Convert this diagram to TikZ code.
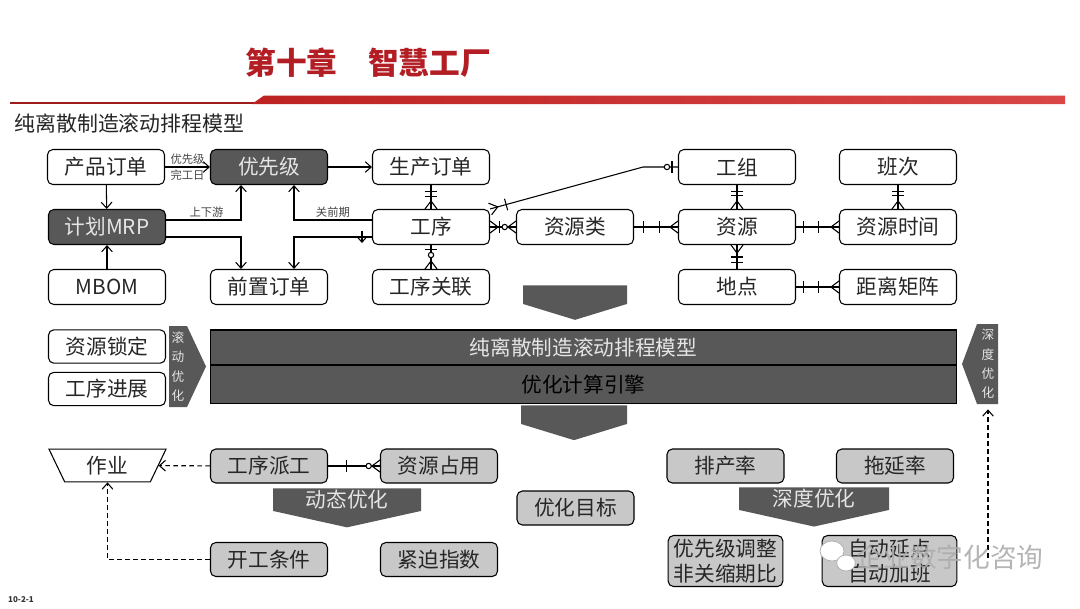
\documentclass[tikz,border=0pt]{standalone}
\usepackage{fontspec}
\setmainfont{Noto Sans CJK SC}
\usetikzlibrary{positioning, shapes.geometric, shapes.symbols, arrows.meta, decorations.markings}

\definecolor{titlered}{RGB}{178,30,36}
\definecolor{linered}{RGB}{210,38,38}
\definecolor{boxdark}{RGB}{88,88,88}
\definecolor{boxgrey}{RGB}{200,200,200}
\definecolor{lbltext}{RGB}{70,70,70}

\tikzset{
  box/.style={rectangle, rounded corners=4pt, draw, line width=0.8pt, minimum width=87.75pt, minimum height=26.25pt, inner sep=1pt, font=\fontsize{15.5}{17}\selectfont, text=black!85},
  darkbox/.style={box, fill=boxdark, text=white!90!black},
  greybox/.style={box, fill=boxgrey, minimum height=25.5pt},
  lbl/.style={font=\fontsize{8.5}{10}\selectfont, text=lbltext, inner sep=1.5pt},
  link/.style={line width=0.8pt},
  arr/.style={link, -{Straight Barb[length=4.5pt, width=8pt]}},
  dlink/.style={arr, dashed, dash pattern=on 3.5pt off 2.5pt},
  ebar/.style={postaction={decorate, decoration={markings, mark=at position #1 with {\draw[line width=0.8pt] (0,-4.5pt) -- (0,4.5pt);}}}},
  ezero/.style={postaction={decorate, decoration={markings, mark=at position #1 with {\draw[line width=0.8pt, fill=white] (0,0) circle (2pt);}}}},
  ecrowend/.style={postaction={decorate, decoration={markings, mark=at position -6pt with {\draw[line width=0.8pt] (6pt,4.5pt) -- (0,0) -- (6pt,-4.5pt);}}}},
  ecrowstart/.style={postaction={decorate, decoration={markings, mark=at position 6pt with {\draw[line width=0.8pt] (-6pt,4.5pt) -- (0,0) -- (-6pt,-4.5pt);}}}},
  chevtext/.style={text=white!90!black, font=\fontsize{9.5}{14.5}\selectfont, align=center, inner sep=0pt},
  downarr/.style={signal, signal to=south, fill=boxdark, draw=none, inner sep=0pt, minimum height=0pt, anchor=north},
  optarr/.style={downarr, signal pointer angle=155, text=white!90!black, font=\fontsize{15.5}{17}\selectfont, text height=13.5pt, text depth=1.5pt, inner ysep=1pt},
  band/.style={rectangle, draw=black, line width=0.8pt, fill=boxdark, minimum width=560pt, font=\fontsize{15.5}{17}\selectfont, inner sep=0pt}
}

\begin{document}
\begin{tikzpicture}[x=0.75pt, y=-0.75pt]
  \useasboundingbox[fill=white] (0,0) rectangle (1080,608);

  % header
  \node[font=\bfseries\fontsize{23}{26}\selectfont, text=titlered] (title) at (368,63) {第十章\hspace{1em}智慧工厂};
  \draw[line width=1.2pt, color=linered!75!black] (10,103) -- (262,103);
  \shade[left color=linered!90!black, right color=linered!85!white] (252,104) -- (264,95.5) -- (1065,95.5) -- (1065,104) -- cycle;
  \node[font=\fontsize{15.7}{18}\selectfont, text=black!85, anchor=west, inner sep=0pt] (subtitle) at (14,123) {纯离散制造滚动排程模型};

  % top part
  \node[box] (cpdd) at (106,167) {产品订单};
  \node[darkbox] (yxj) at (269,167) {优先级};
  \node[box] (scdd) at (431,167) {生产订单};
  \node[box] (gz) at (737,167) {工组};
  \node[box] (bc) at (898,167) {班次};
  \node[darkbox] (mrp) at (107,227) {计划MRP};
  \node[box] (gx) at (431,227) {工序};
  \node[box] (zyl) at (575,227) {资源类};
  \node[box] (zy) at (737,227) {资源};
  \node[box] (zysj) at (898,227) {资源时间};
  \node[box] (mbom) at (107,287) {MBOM};
  \node[box] (qzdd) at (269,287) {前置订单};
  \node[box] (gxgl) at (431,287) {工序关联};
  \node[box] (dd) at (737,287) {地点};
  \node[box] (jljz) at (898,287) {距离矩阵};

  \draw[arr] (cpdd) -- node[lbl, above]{优先级} node[lbl, below]{完工日} (yxj);
  \draw[arr] (cpdd) -- (mrp);
  \draw[arr] (mbom) -- (mrp);
  \draw[arr] (mrp.east |- 0,220) -| node[lbl, above, pos=0.27]{上下游} (241,0 |- yxj.south);
  \draw[arr] (mrp.east |- 0,237) -| (241,0 |- qzdd.north);
  \draw[arr] (gx.west |- 0,220) -| node[lbl, above, pos=0.25]{关前期} (294,0 |- yxj.south);
  \draw[arr, ebar=7.5pt] (gx.west |- 0,237) -| (294,0 |- qzdd.north);
  \draw[arr] (yxj) -- (scdd);

  \draw[link, ebar=5pt, ebar=8.5pt, ecrowend] (scdd) -- (gx);
  \draw[link, ebar=3pt, ezero=7.5pt, ecrowend] (gx) -- (gxgl);
  \draw[link, ecrowstart, ebar=7pt, ezero=11pt, ecrowend] (gx) -- (zyl);
  \draw[link, ebar=6.75pt, ebar=18.75pt, ecrowend] (zyl) -- (zy);
  \draw[link, ecrowstart, ebar=12.5pt, ezero=-8.25pt, ebar=-4.5pt] (gx.north east) -- (643,0 |- gz.west) -- (gz.west);
  \draw[link, ebar=4.5pt, ebar=8pt, ecrowend] (gz) -- (zy);
  \draw[link, ebar=4.5pt, ebar=8pt, ecrowend] (bc) -- (zysj);
  \draw[link, ebar=5.25pt, ebar=16.5pt, ecrowend] (zy) -- (zysj);
  \draw[link, ecrowstart, ebar=-9pt, ebar=-5pt] (zy) -- (dd);
  \draw[link, ebar=5.25pt, ebar=16.5pt, ecrowend] (dd) -- (jljz);

  \node[downarr, minimum width=78pt, text height=14pt, text depth=0pt, signal pointer angle=146] (arra) at (575,285) {};

  % middle band
  \node[box, minimum height=25pt] (zysd) at (107,346.5) {资源锁定};
  \node[box, minimum height=25pt] (gxjz) at (107,389) {工序进展};
  \fill[boxdark] (169,326) -- (187,326) -- (206,366.5) -- (187,407) -- (169,407) -- cycle;
  \node[chevtext] (gdyh) at (178,366.5) {滚\\动\\优\\化};
  \node[band, minimum height=26.25pt, text=white!90!black] (model) at (583.5,347.5) {纯离散制造滚动排程模型};
  \node[band, minimum height=28.5pt, text=black] (engine) at (583.5,384.5) {优化计算引擎};
  \fill[boxdark] (998,324) -- (977,324) -- (962,364) -- (977,404) -- (998,404) -- cycle;
  \coordinate (sdtop) at (988,404);
  \node[chevtext] (sdyhside) at (988,364) {深\\度\\优\\化};

  \node[downarr, minimum width=79.5pt, text height=14pt, text depth=0pt, signal pointer angle=146] (arrb) at (574,405) {};

  % bottom part
  \node[trapezium, shape border rotate=180, trapezium angle=54, trapezium stretches body=true, draw, line width=0.8pt, minimum width=87.75pt, minimum height=24.5pt, inner sep=1pt, font=\fontsize{15.5}{17}\selectfont, text=black!85] (zuoye) at (107.5,465.5) {作业};
  \node[greybox] (gxpg) at (269,466) {工序派工};
  \node[greybox] (zyzy) at (439,466) {资源占用};
  \node[optarr, minimum width=111pt] (dtyh) at (347,488) {动态优化};
  \node[greybox] (kgtj) at (269,559.5) {开工条件};
  \node[greybox] (jpzs) at (439,559.5) {紧迫指数};
  \node[greybox] (yhmb) at (575.5,508) {优化目标};
  \node[greybox] (pcl) at (725.5,466) {排产率};
  \node[greybox] (tyl) at (895,466) {拖延率};
  \node[optarr, minimum width=112.5pt] (sdyh) at (814,487) {深度优化};
  \node[greybox, minimum width=86pt, minimum height=38.25pt, align=center, font=\fontsize{15.5}{19}\selectfont] (yxjtz) at (725.5,561) {优先级调整\\非关缩期比};
  \node[greybox, minimum width=101pt, minimum height=38.25pt, align=center, font=\fontsize{15.5}{19}\selectfont] (zdyd) at (889.5,561) {自动延点\\自动加班};

  \draw[dlink] (gxpg) -- (zuoye);
  \draw[dlink] (kgtj) -| (zuoye);
  \draw[link, ebar=13.5pt, ezero=-8.5pt, ecrowend] (gxpg) -- (zyzy);
  \coordinate (sdend) at (988,558);
  \draw[dlink, shorten >=4pt] (sdend) -- (sdtop);

  % watermark
  \draw[black!30, fill=white, line width=0.6pt] (832,551) ellipse (9pt and 7.5pt);
  \draw[black!30, fill=white, line width=0.6pt] (846,563) ellipse (7pt and 6pt);
  \node[font=\fontsize{20}{22}\selectfont, text=black!32, opacity=0.9, inner sep=0pt] (wm) at (950,557) {企业数字化咨询};

  \node[font=\bfseries\fontsize{6}{7}\selectfont, text=black!80, inner sep=0pt] (pg) at (21,600) {10-2-1};
\end{tikzpicture}
\end{document}
